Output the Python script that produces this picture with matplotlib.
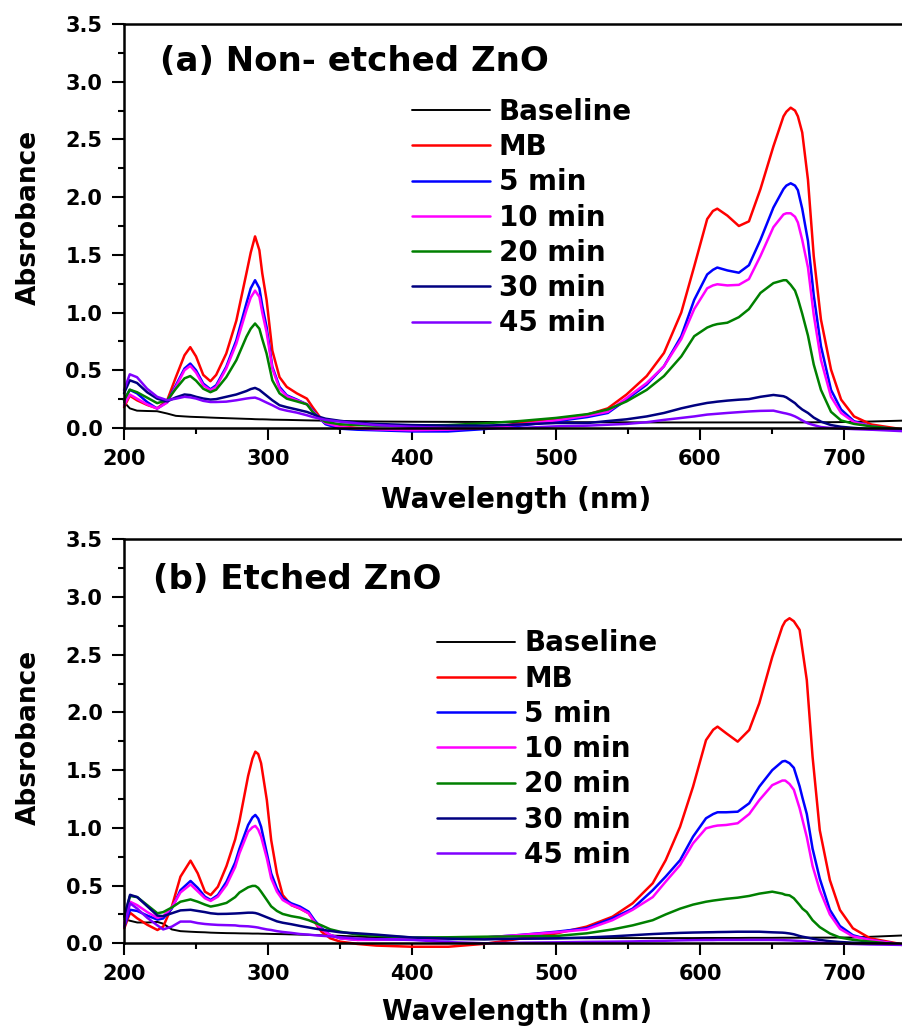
import matplotlib
matplotlib.use("Agg")
import matplotlib.pyplot as plt
from matplotlib import font_manager
from matplotlib.ticker import MultipleLocator

plt.rcParams["font.family"] = ["DejaVu Sans"]
plt.rcParams["font.weight"] = "bold"

labels = ["Baseline", "MB", "5 min", "10 min", "20 min", "30 min", "45 min"]
colors = ["#000000", "#ff0000", "#0000ff", "#ff00ff", "#008000", "#000080", "#8000ff"]
titles = ["(a) Non- etched ZnO", "(b) Etched ZnO"]

# panel (a): non-etched ZnO
wl_a = [200, 204, 209, 216, 223, 230, 236, 242, 246, 250, 255, 260, 264, 271, 278, 285,
        288, 291, 294, 296,
        299, 303, 308, 313, 320, 327, 331, 336, 340, 350, 362, 375, 400, 425, 450, 475, 500,
        522, 536, 549, 563, 575, 587, 596, 605,
        609, 612, 619, 627, 634, 642, 651, 658,
        660, 663, 666, 668, 671, 675, 679, 684, 691, 698, 707, 719, 745]
base_a = [0.225, 0.17, 0.15, 0.147, 0.145, 0.125, 0.105, 0.10, 0.097, 0.095, 0.093, 0.09,
          0.088, 0.085, 0.082, 0.079,
          0.078, 0.076, 0.075, 0.075,
          0.074, 0.072, 0.071, 0.07, 0.068, 0.066, 0.065, 0.064, 0.063, 0.06, 0.058, 0.056,
          0.054, 0.053, 0.052, 0.051, 0.05, 0.05, 0.049, 0.049, 0.048, 0.048, 0.048, 0.048, 0.048,
          0.048, 0.048, 0.048, 0.048, 0.048, 0.048, 0.048, 0.048,
          0.048, 0.048, 0.048, 0.048, 0.048, 0.049, 0.049, 0.05, 0.05, 0.051, 0.053, 0.056, 0.065]
mb_a = [0.18, 0.28, 0.24, 0.20, 0.17, 0.24, 0.44, 0.63, 0.70, 0.62, 0.46, 0.405, 0.46, 0.645,
        0.93, 1.34,
        1.52, 1.66, 1.54, 1.34,
        1.11, 0.67, 0.44, 0.356, 0.30, 0.254, 0.18, 0.095, 0.038, 0.015, 0.0, -0.01, -0.02,
        -0.02, 0.0, 0.04, 0.078, 0.116, 0.17, 0.29, 0.45, 0.65, 1.0, 1.40, 1.81,
        1.88, 1.90, 1.84, 1.75, 1.79, 2.07, 2.44, 2.70,
        2.74, 2.775, 2.75, 2.70, 2.56, 2.15, 1.49, 0.94, 0.506, 0.246, 0.10, 0.03, -0.02]
m5_a = [0.24, 0.33, 0.30, 0.225, 0.168, 0.225, 0.37, 0.515, 0.558, 0.50, 0.385, 0.335, 0.37,
        0.53, 0.76, 1.08,
        1.21, 1.28, 1.21, 1.06,
        0.876, 0.53, 0.356, 0.283, 0.246, 0.205, 0.153, 0.081, 0.032, -0.006, -0.015, -0.02,
        -0.03, -0.03, -0.01, 0.02, 0.058, 0.095, 0.13, 0.246, 0.376, 0.535, 0.795, 1.11, 1.33,
        1.37, 1.39, 1.365, 1.345, 1.41, 1.63, 1.91, 2.07,
        2.10, 2.12, 2.10, 2.06, 1.90, 1.62, 1.15, 0.71, 0.33, 0.16, 0.058, 0.014, -0.025]
m10_a = [0.197, 0.29, 0.254, 0.205, 0.168, 0.22, 0.356, 0.50, 0.538, 0.48, 0.37, 0.327, 0.356,
         0.515, 0.73, 1.02,
         1.13, 1.19, 1.136, 1.0,
         0.83, 0.515, 0.34, 0.275, 0.24, 0.205, 0.147, 0.081, 0.043, 0.009, -0.005, -0.012,
         -0.02, -0.015, 0.0, 0.03, 0.066, 0.107, 0.14, 0.26, 0.39, 0.535, 0.77, 1.03, 1.21,
         1.235, 1.245, 1.235, 1.24, 1.29, 1.49, 1.74, 1.85,
         1.86, 1.86, 1.83, 1.78, 1.63, 1.39, 0.98, 0.59, 0.27, 0.13, 0.05, 0.014, -0.025]
m20_a = [0.24, 0.332, 0.31, 0.263, 0.215, 0.24, 0.34, 0.43, 0.45, 0.41, 0.34, 0.31, 0.332, 0.44,
         0.587, 0.79,
         0.86, 0.905, 0.86, 0.77,
         0.645, 0.413, 0.30, 0.254, 0.23, 0.205, 0.139, 0.081, 0.052, 0.032, 0.025, 0.02, 0.02,
         0.025, 0.04, 0.06, 0.087, 0.12, 0.16, 0.23, 0.33, 0.45, 0.62, 0.795, 0.87,
         0.89, 0.90, 0.912, 0.96, 1.03, 1.17, 1.255, 1.28,
         1.28, 1.24, 1.19, 1.12, 0.99, 0.80, 0.55, 0.33, 0.14, 0.065, 0.035, 0.014, -0.02]
m30_a = [0.30, 0.413, 0.39, 0.31, 0.254, 0.23, 0.265, 0.29, 0.285, 0.27, 0.255, 0.246, 0.25,
         0.27, 0.29, 0.32,
         0.337, 0.347, 0.33, 0.31,
         0.28, 0.24, 0.197, 0.18, 0.16, 0.139, 0.12, 0.095, 0.08, 0.062, 0.045, 0.035, 0.025,
         0.02, 0.02, 0.03, 0.043, 0.043, 0.06, 0.075, 0.10, 0.13, 0.17, 0.195, 0.217,
         0.223, 0.228, 0.237, 0.245, 0.25, 0.27, 0.286, 0.275,
         0.265, 0.24, 0.215, 0.19, 0.16, 0.13, 0.09, 0.055, 0.025, 0.01, 0.0, -0.01, -0.02]
m45_a = [0.327, 0.465, 0.44, 0.34, 0.27, 0.24, 0.254, 0.27, 0.265, 0.255, 0.235, 0.225, 0.225,
         0.228, 0.24, 0.255,
         0.26, 0.263, 0.25, 0.238,
         0.22, 0.197, 0.165, 0.15, 0.133, 0.11, 0.095, 0.081, 0.07, 0.055, 0.04, 0.025, 0.01,
         0.0, -0.005, 0.0, 0.014, 0.02, 0.028, 0.035, 0.05, 0.07, 0.087, 0.10, 0.116,
         0.12, 0.123, 0.13, 0.137, 0.143, 0.148, 0.15, 0.13,
         0.125, 0.115, 0.10, 0.087, 0.065, 0.04, 0.025, 0.008, 0.0, -0.005, -0.01, -0.015, -0.03]

# panel (b): etched ZnO
wl_b = [200, 204, 209, 216, 223, 227, 233, 239, 246, 251, 256, 260, 265, 271, 277, 280, 286,
        289, 291, 293,
        295, 299, 302, 306, 310, 316, 322, 328, 332, 337, 343, 350, 362, 375, 400, 425, 450,
        475, 500, 521, 539, 553, 567, 576, 586, 595, 604,
        609,
        612, 618, 626, 634, 641, 650, 657,
        659, 662, 665, 669, 671, 674,
        678, 683, 690, 697, 706, 718, 745]
base_b = [0.21, 0.195, 0.18, 0.18, 0.185, 0.17, 0.12, 0.105, 0.10, 0.097, 0.095, 0.092, 0.09,
          0.088, 0.087, 0.086, 0.085,
          0.084, 0.084, 0.084,
          0.083, 0.082, 0.081, 0.08, 0.079, 0.077, 0.075, 0.073, 0.071, 0.069, 0.067, 0.064,
          0.058, 0.05, 0.04, 0.035, 0.035, 0.04, 0.043, 0.044, 0.045, 0.045, 0.045, 0.045,
          0.045, 0.045, 0.046,
          0.046,
          0.046, 0.046, 0.046, 0.047, 0.047, 0.047, 0.048,
          0.048, 0.048, 0.048, 0.048, 0.048, 0.048,
          0.049, 0.049, 0.049, 0.05, 0.05, 0.056, 0.07]
mb_b = [0.13, 0.265, 0.216, 0.16, 0.115, 0.144, 0.317, 0.577, 0.716, 0.606, 0.447, 0.418, 0.49,
        0.67, 0.90, 1.06, 1.45,
        1.60, 1.66, 1.64,
        1.56, 1.24, 0.895, 0.606, 0.418, 0.33, 0.30, 0.26, 0.188, 0.10, 0.043, 0.014, -0.006,
        -0.02, -0.03, -0.03, -0.005, 0.04, 0.085, 0.144, 0.23, 0.346, 0.52, 0.72, 1.01, 1.357,
        1.76,
        1.85,
        1.877, 1.82, 1.747, 1.848, 2.08, 2.48, 2.744,
        2.79, 2.816, 2.79, 2.715, 2.54, 2.28,
        1.617, 0.98, 0.548, 0.289, 0.13, 0.043, -0.02]
m5_b = [0.144, 0.29, 0.28, 0.24, 0.205, 0.215, 0.30, 0.46, 0.54, 0.48, 0.404, 0.375, 0.418,
        0.534, 0.70, 0.82, 1.025,
        1.09, 1.112, 1.08,
        1.01, 0.78, 0.606, 0.476, 0.39, 0.346, 0.318, 0.274, 0.202, 0.13, 0.072, 0.043, 0.03,
        0.035, 0.04, 0.035, 0.05, 0.072, 0.10, 0.13, 0.217, 0.30, 0.46, 0.578, 0.72, 0.924,
        1.083,
        1.12,
        1.135, 1.135, 1.14, 1.213, 1.357, 1.50, 1.575,
        1.58, 1.56, 1.52, 1.36, 1.26, 1.12,
        0.82, 0.56, 0.29, 0.15, 0.07, 0.029, -0.02]
m10_b = [0.173, 0.36, 0.33, 0.27, 0.22, 0.235, 0.31, 0.44, 0.51, 0.45, 0.39, 0.367, 0.404,
         0.505, 0.66, 0.78, 0.967,
         1.005, 1.017, 0.985,
         0.924, 0.736, 0.563, 0.447, 0.375, 0.332, 0.303, 0.26, 0.188, 0.121, 0.072, 0.043,
         0.029, 0.03, 0.034, 0.04, 0.05, 0.072, 0.095, 0.12, 0.20, 0.29, 0.40, 0.534, 0.678,
         0.866, 0.996,
         1.013,
         1.02, 1.025, 1.04, 1.12, 1.24, 1.37, 1.41,
         1.41, 1.38, 1.33, 1.17, 1.07, 0.92,
         0.67, 0.46, 0.25, 0.125, 0.06, 0.029, -0.02]
m20_b = [0.23, 0.41, 0.40, 0.33, 0.26, 0.27, 0.31, 0.36, 0.38, 0.36, 0.335, 0.318, 0.33, 0.35,
         0.40, 0.44, 0.485,
         0.497, 0.497, 0.48,
         0.447, 0.375, 0.32, 0.28, 0.254, 0.235, 0.222, 0.20, 0.18, 0.155, 0.121, 0.10, 0.075,
         0.065, 0.05, 0.052, 0.057, 0.06, 0.063, 0.086, 0.12, 0.155, 0.20, 0.25, 0.30, 0.335,
         0.36,
         0.37,
         0.375, 0.385, 0.395, 0.41, 0.43, 0.447, 0.43,
         0.42, 0.415, 0.39, 0.332, 0.30, 0.27,
         0.20, 0.14, 0.085, 0.05, 0.03, 0.014, -0.02]
m30_b = [0.23, 0.42, 0.40, 0.32, 0.24, 0.235, 0.26, 0.285, 0.29, 0.28, 0.27, 0.26, 0.254, 0.255,
         0.258, 0.26, 0.265,
         0.265, 0.262, 0.255,
         0.245, 0.225, 0.21, 0.19, 0.178, 0.165, 0.15, 0.137, 0.128, 0.118, 0.107, 0.095, 0.086,
         0.075, 0.05, 0.04, 0.034, 0.04, 0.043, 0.05, 0.06, 0.07, 0.08, 0.085, 0.09, 0.093,
         0.095,
         0.096,
         0.097, 0.098, 0.10, 0.10, 0.10, 0.095, 0.092,
         0.09, 0.085, 0.078, 0.063, 0.057, 0.05,
         0.04, 0.029, 0.018, 0.011, 0.005, 0.0, -0.01]
m45_b = [0.144, 0.346, 0.30, 0.22, 0.155, 0.12, 0.144, 0.188, 0.188, 0.175, 0.167, 0.163, 0.159,
         0.157, 0.155, 0.15, 0.147,
         0.143, 0.14, 0.136,
         0.13, 0.12, 0.115, 0.105, 0.098, 0.09, 0.08, 0.075, 0.07, 0.065, 0.06, 0.052, 0.04,
         0.035, 0.029, 0.01, 0.0, 0.005, 0.008, 0.012, 0.014, 0.016, 0.02, 0.022, 0.025, 0.027,
         0.028,
         0.028,
         0.029, 0.029, 0.029, 0.029, 0.029, 0.029, 0.027,
         0.026, 0.025, 0.023, 0.02, 0.018, 0.015,
         0.01, 0.005, 0.0, -0.003, -0.006, -0.01, -0.015]

# y label font: narrow bold if present, else DejaVu at a smaller size
installed = {f.name for f in font_manager.fontManager.ttflist}
if "Liberation Sans Narrow" in installed:
    ylab_font, ylab_size = "Liberation Sans Narrow", 25
else:
    ylab_font, ylab_size = "DejaVu Sans", 19

fig = plt.figure(figsize=(9.02, 10.30), dpi=100)
ax_a = fig.add_axes([0.1375, 0.5845, 0.870, 0.3922])
ax_b = fig.add_axes([0.1378, 0.0842, 0.870, 0.3922])

panels = [
    (ax_a, wl_a, [base_a, mb_a, m5_a, m10_a, m20_a, m30_a, m45_a], 0.367, 0.817, 0.046, 0.908, 0.52, -0.178),
    (ax_b, wl_b, [base_b, mb_b, m5_b, m10_b, m20_b, m30_b, m45_b], 0.399, 0.777, 0.036, 0.901, 0.51, -0.171),
]

for i, (ax, wl, series, lx, ly, tx, ty, yl, xl) in enumerate(panels):
    handles = []
    for k, ys in enumerate(series):
        lw = 1.4 if k == 0 else 1.8
        h, = ax.plot(wl, ys, color=colors[k], lw=lw, label=labels[k], clip_on=False,
                     solid_joinstyle="round", solid_capstyle="round")
        handles.append(h)

    ax.set_xlim(200, 745)
    ax.set_ylim(0, 3.5)
    ax.xaxis.set_major_locator(MultipleLocator(100))
    ax.xaxis.set_minor_locator(MultipleLocator(50))
    ax.yaxis.set_major_locator(MultipleLocator(0.5))
    ax.yaxis.set_minor_locator(MultipleLocator(0.25))
    ax.yaxis.set_major_formatter(plt.FormatStrFormatter("%.1f"))
    ax.xaxis.set_major_formatter(plt.FormatStrFormatter("%d"))

    ax.spines["right"].set_visible(False)
    for s in ["left", "bottom", "top"]:
        ax.spines[s].set_linewidth(1.8)
    ax.tick_params(which="both", direction="out", top=False, right=False, width=1.5,
                   labelsize=15)
    ax.tick_params(which="major", length=8.5)
    ax.tick_params(which="minor", length=4.5)
    ax.tick_params(axis="x", which="major", pad=6.5)
    ax.tick_params(axis="y", which="major", pad=7)
    for t in ax.get_xticklabels() + ax.get_yticklabels():
        t.set_fontweight("bold")

    ax.set_xlabel("Wavelength (nm)", fontsize=20, fontweight="bold", va="center")
    ax.xaxis.set_label_coords(0.5, xl)
    ax.set_ylabel("Absrobance", fontsize=ylab_size, fontweight="bold",
                  family=[ylab_font, "DejaVu Sans"], va="center")
    ax.yaxis.set_label_coords(-0.121, yl)

    ax.text(tx, ty, titles[i], transform=ax.transAxes, fontsize=24.5, fontweight="bold",
            ha="left", va="center")

    ax.legend(handles=handles, loc="upper left", bbox_to_anchor=(lx, ly), frameon=False,
              prop={"weight": "bold", "size": 20}, handlelength=2.8,
              handletextpad=0.32, labelspacing=0.26, borderpad=0, borderaxespad=0)

fig.savefig("out.png", dpi=100)
